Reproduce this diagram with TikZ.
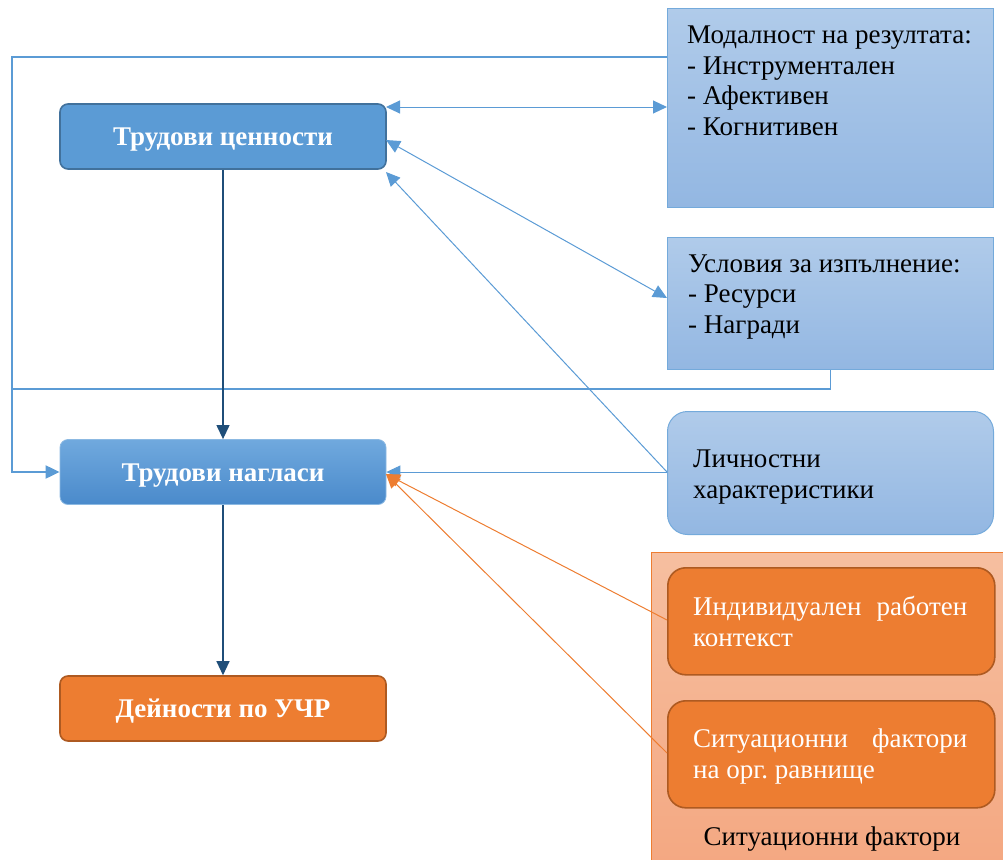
\documentclass[tikz,border=0pt]{standalone}
\usepackage{fontspec}
\setmainfont{Liberation Serif}
\frenchspacing
\usetikzlibrary{arrows.meta,positioning,calc}
\definecolor{bmain}{HTML}{5B9BD5}
\definecolor{bdark}{HTML}{41719C}
\definecolor{navy}{HTML}{1F4E79}
\definecolor{ltop}{HTML}{B0CBEA}
\definecolor{lbot}{HTML}{93B7E2}
\definecolor{ntop}{HTML}{70A9DE}
\definecolor{nbot}{HTML}{4A8ACB}
\definecolor{omain}{HTML}{ED7D31}
\definecolor{odark}{HTML}{AE5A21}
\definecolor{stop}{HTML}{F6BFA0}
\definecolor{sbot}{HTML}{F4A882}
\tikzset{
  titlebox/.style={rounded corners=8pt, line width=1.6pt, minimum width=326pt, minimum height=65pt,
     font=\fontsize{27}{30}\selectfont\bfseries, text=white, inner sep=0pt, text height=18pt, text depth=0pt},
  lightbox/.style={draw=bmain!85, line width=1pt, top color=ltop, bottom color=lbot,
     minimum width=326pt, inner sep=0pt},
  obox/.style={draw=odark, line width=1.6pt, fill=omain, rounded corners=18pt,
     minimum width=327pt, minimum height=107pt, inner sep=0pt},
  btxt/.style={font=\fontsize{27}{30.5}\selectfont, align=left, anchor=base west, inner sep=0pt},
  wtxt/.style={font=\fontsize{27}{31}\selectfont, text=white, align=left, anchor=base west, inner sep=0pt},
  bl/.style={draw=bmain, line width=1pt},
  tip/.style={-{Triangle[length=14pt,width=13pt]}},
  dtip/.style={{Triangle[length=14pt,width=13pt]}-{Triangle[length=14pt,width=13pt]}},
}
\begin{document}
\begin{tikzpicture}[x=1pt,y=-1pt]
\useasboundingbox (0,0) rectangle (1003,859);
% orange group background
\node[draw=omain, line width=0.8pt, top color=stop, bottom color=sbot, minimum width=352pt, minimum height=310pt, inner sep=0pt, anchor=north west] (grp) at (651,552) {};
\node[font=\fontsize{27}{30}\selectfont, anchor=base] (grplab) at (832,845) {Ситуационни фактори};
% left boxes
\node[titlebox, draw=bdark, fill=bmain] (tc) at (223,136.5) {Трудови ценности};
\node[titlebox, draw=bmain!70, line width=0.8pt, top color=ntop, bottom color=nbot] (tn) at (223,472) {Трудови нагласи};
\node[titlebox, draw=odark, fill=omain] (du) at (223,708.5) {Дейности по УЧР};
% right boxes
\node[lightbox, minimum height=199pt, anchor=north west] (mod) at (667,8) {};
\node[btxt] (modt) at (687,135) {Модалност на резултата:\\- Инструментален\\- Афективен\\- Когнитивен};
\node[lightbox, minimum height=132pt, anchor=north west] (usl) at (667,237) {};
\node[btxt] (uslt) at (688,333) {Условия за изпълнение:\\- Ресурси\\- Награди};
\node[lightbox, rounded corners=20pt, minimum height=123pt, anchor=north west] (lich) at (667,411) {};
\node[btxt] (licht) at (693,498) {Личностни\\характеристики};
\node[obox, anchor=north west] (ind) at (667,567) {};
\node[wtxt] (indt) at (693,646) {\makebox[274pt][s]{Индивидуален\hfill работен}\\контекст};
\node[obox, anchor=north west] (sit) at (667,700) {};
\node[wtxt] (sitt) at (693,778) {\makebox[274pt][s]{Ситуационни\hfill фактори}\\на орг. равнище};
% coordinates
\coordinate (lft) at (12,389);
\coordinate (tcA) at (386,107);
\coordinate (tcB) at (386,140);
\coordinate (tcC) at (386,172);
\coordinate (modA) at (667,107);
\coordinate (modTop) at (667,57);
\coordinate (uslA) at (667,298);
\coordinate (lichA) at (667,472);
\coordinate (indA) at (667,620);
\coordinate (sitA) at (667,753);
\coordinate (tnE) at (386,474);
% connectors
\draw[bl, line width=2pt, tip] (modTop) -- (12,57) |- (tn.west);
\draw[bl, line width=1.4pt] (usl.south) |- (lft);
\draw[bl, dtip] (tcA) -- (modA);
\draw[bl, dtip] (tcB) -- (uslA);
\draw[bl, tip] (lichA) -- (tcC);
\draw[bl, tip] (lichA) -- (tn.east);
\draw[omain, line width=1pt, tip] (indA) -- (tnE);
\draw[omain, line width=1pt, tip] (sitA) -- (tnE);
\draw[navy, line width=1.2pt, tip] (tc.south) -- (tn.north);
\draw[navy, line width=1.2pt, tip] (tn.south) -- (du.north);
\end{tikzpicture}
\end{document}
